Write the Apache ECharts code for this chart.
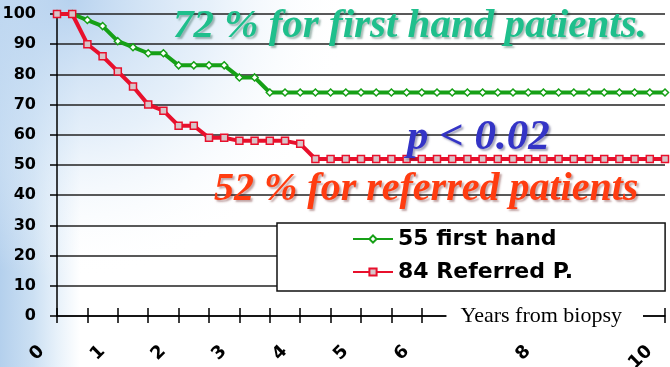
<!DOCTYPE html>
<html>
<head>
<meta charset="utf-8">
<script src="https://cdn.jsdelivr.net/npm/echarts@6/dist/echarts.min.js"></script>
<style>
html,body{margin:0;padding:0;background:#fff;}
#chart{width:670px;height:367px;}
</style>
</head>
<body>
<div id="chart"></div>
<script>
// Years from biopsy (quarter-year steps)
const years = [0,0.25,0.5,0.75,1,1.25,1.5,1.75,2,2.25,2.5,2.75,3,3.25,3.5,3.75,4,4.25,4.5,4.75,5,5.25,5.5,5.75,6,6.25,6.5,6.75,7,7.25,7.5,7.75,8,8.25,8.5,8.75,9,9.25,9.5,9.75,10];
// 55 first hand patients (% survival)
const firstHand = [100,100,98,96,91,89,87,87,83,83,83,83,79,79,74,74,74,74,74,74,74,74,74,74,74,74,74,74,74,74,74,74,74,74,74,74,74,74,74,74,74];
// 84 referred patients (% survival)
const referred = [100,100,90,86,81,76,70,68,63,63,59,59,58,58,58,58,57,52,52,52,52,52,52,52,52,52,52,52,52,52,52,52,52,52,52,52,52,52,52,52,52];
// x tick labels that are printed
const xTickLabels = [0,1,2,3,4,5,6,8,10];
const seriesNames = ['55 first hand', '84 Referred P.'];
const annotations = ['72 % for first hand patients.', 'p < 0.02', '52 % for referred patients'];
const axisTitle = 'Years from biopsy';

const chart = echarts.init(document.getElementById('chart'), null, {renderer:'canvas'});
const pairs = (ys) => years.map((x, i) => [x, ys[i]]);

const GREEN = '#16a016';
const RED = '#e8102c';

const option = {
  animation: false,
  backgroundColor: {
    type: 'linear', x: 0, y: 0, x2: 1, y2: 0,
    colorStops: [
      {offset: 0, color: '#b4d0ed'},
      {offset: 0.05, color: '#cce0f3'},
      {offset: 0.085, color: '#e7f1fa'},
      {offset: 0.12, color: '#ffffff'},
      {offset: 1, color: '#ffffff'}
    ]
  },
  grid: {left: 57, right: 5, top: 14, bottom: 51, outerBoundsMode: 'none', containLabel: false},
  graphic: [
    {
      type: 'rect', z: -10, silent: true,
      shape: {x: 0, y: 0, width: 670, height: 367},
      style: {
        fill: {
          type: 'radial', x: 70, y: 0, r: 280, global: true,
          colorStops: [
            {offset: 0, color: 'rgba(180,208,238,0.95)'},
            {offset: 0.5, color: 'rgba(210,228,246,0.55)'},
            {offset: 1, color: 'rgba(255,255,255,0)'}
          ]
        }
      }
    },
    {
      type: 'text', z: 100, silent: true,
      style: {
        text: annotations[0], x: 173, y: 26, verticalAlign: 'middle', align: 'left',
        font: 'italic bold 41px "Liberation Serif"', fill: '#1fbf8c',
        textShadowColor: 'rgba(0,60,40,0.35)', textShadowBlur: 2, textShadowOffsetX: 2, textShadowOffsetY: 2
      }
    },
    {
      type: 'text', z: 100, silent: true,
      style: {
        text: annotations[1], x: 407, y: 138, verticalAlign: 'middle', align: 'left',
        font: 'italic bold 43px "Liberation Serif"', fill: '#3434c6',
        textShadowColor: 'rgba(0,0,60,0.35)', textShadowBlur: 2, textShadowOffsetX: 2, textShadowOffsetY: 2
      }
    },
    {
      type: 'text', z: 100, silent: true,
      style: {
        text: annotations[2], x: 214, y: 190, verticalAlign: 'middle', align: 'left',
        font: 'italic bold 40px "Liberation Serif"', fill: '#ff3c10',
        textShadowColor: 'rgba(80,0,0,0.35)', textShadowBlur: 2, textShadowOffsetX: 2, textShadowOffsetY: 2
      }
    }
  ],
  legend: {
    orient: 'vertical', left: 277, top: 223,
    data: seriesNames,
    itemWidth: 40, itemHeight: 9, itemGap: 11,
    padding: [5, 92, 8, 75],
    backgroundColor: '#ffffff', borderColor: '#111', borderWidth: 1.5, borderRadius: 0,
    textStyle: {fontFamily: 'DejaVu Sans', fontWeight: 'bold', fontSize: 22, lineHeight: 22, color: '#000'},
    z: 50
  },
  xAxis: [
    {
      type: 'value', min: 0, max: 10, interval: 0.5,
      axisLine: {show: true, lineStyle: {color: '#000', width: 1.5}},
      axisTick: {show: true, inside: false, length: 7, lineStyle: {color: '#000', width: 1.5}},
      splitLine: {show: false},
      axisLabel: {
        show: true, rotate: 45, margin: 17, align: 'right', verticalAlign: 'middle',
        padding: [0, 22, 43, 0],
        fontFamily: 'DejaVu Sans', fontWeight: 'bold', fontSize: 18, color: '#000',
        formatter: (v) => xTickLabels.indexOf(v) >= 0 ? String(v) : ''
      }
    },
    {
      type: 'value', min: 0, max: 10, interval: 0.5, position: 'bottom',
      axisLine: {show: false},
      axisTick: {show: true, inside: true, length: 8, lineStyle: {color: '#000', width: 1.5}},
      axisLabel: {show: false},
      splitLine: {show: false}
    },
    {
      type: 'value', min: 0, max: 10, interval: 0.5, position: 'bottom', z: 8,
      axisLine: {show: false},
      axisTick: {show: false},
      axisLabel: {show: false},
      splitLine: {show: false},
      name: axisTitle, nameLocation: 'end', nameGap: -22, nameMoveOverlap: false,
      nameTextStyle: {
        fontFamily: 'Liberation Serif', fontSize: 22, color: '#000',
        align: 'right', verticalAlign: 'middle',
        backgroundColor: '#ffffff', padding: [5, 21, 5, 14]
      }
    }
  ],
  yAxis: {
    type: 'value', min: 0, max: 100, interval: 10,
    axisLine: {show: true, lineStyle: {color: '#000', width: 1.5}},
    axisTick: {show: true, inside: false, length: 7, lineStyle: {color: '#000', width: 1.5}},
    splitLine: {show: true, lineStyle: {color: '#222', width: 1.5}},
    axisLabel: {margin: 21, fontFamily: 'DejaVu Sans', fontWeight: 'bold', fontSize: 16, color: '#000'}
  },
  series: [
    {
      name: seriesNames[0], type: 'line', xAxisIndex: 0,
      data: pairs(firstHand),
      symbol: 'diamond', symbolSize: 7,
      itemStyle: {color: '#ffffff', borderColor: GREEN, borderWidth: 1.5},
      lineStyle: {color: GREEN, width: 4}
    },
    {
      name: seriesNames[1], type: 'line', xAxisIndex: 0,
      data: pairs(referred),
      symbol: 'rect', symbolSize: 7,
      itemStyle: {color: '#d8c4c8', borderColor: RED, borderWidth: 1.5},
      lineStyle: {color: RED, width: 4}
    }
  ]
};
chart.setOption(option);
</script>
</body>
</html>
